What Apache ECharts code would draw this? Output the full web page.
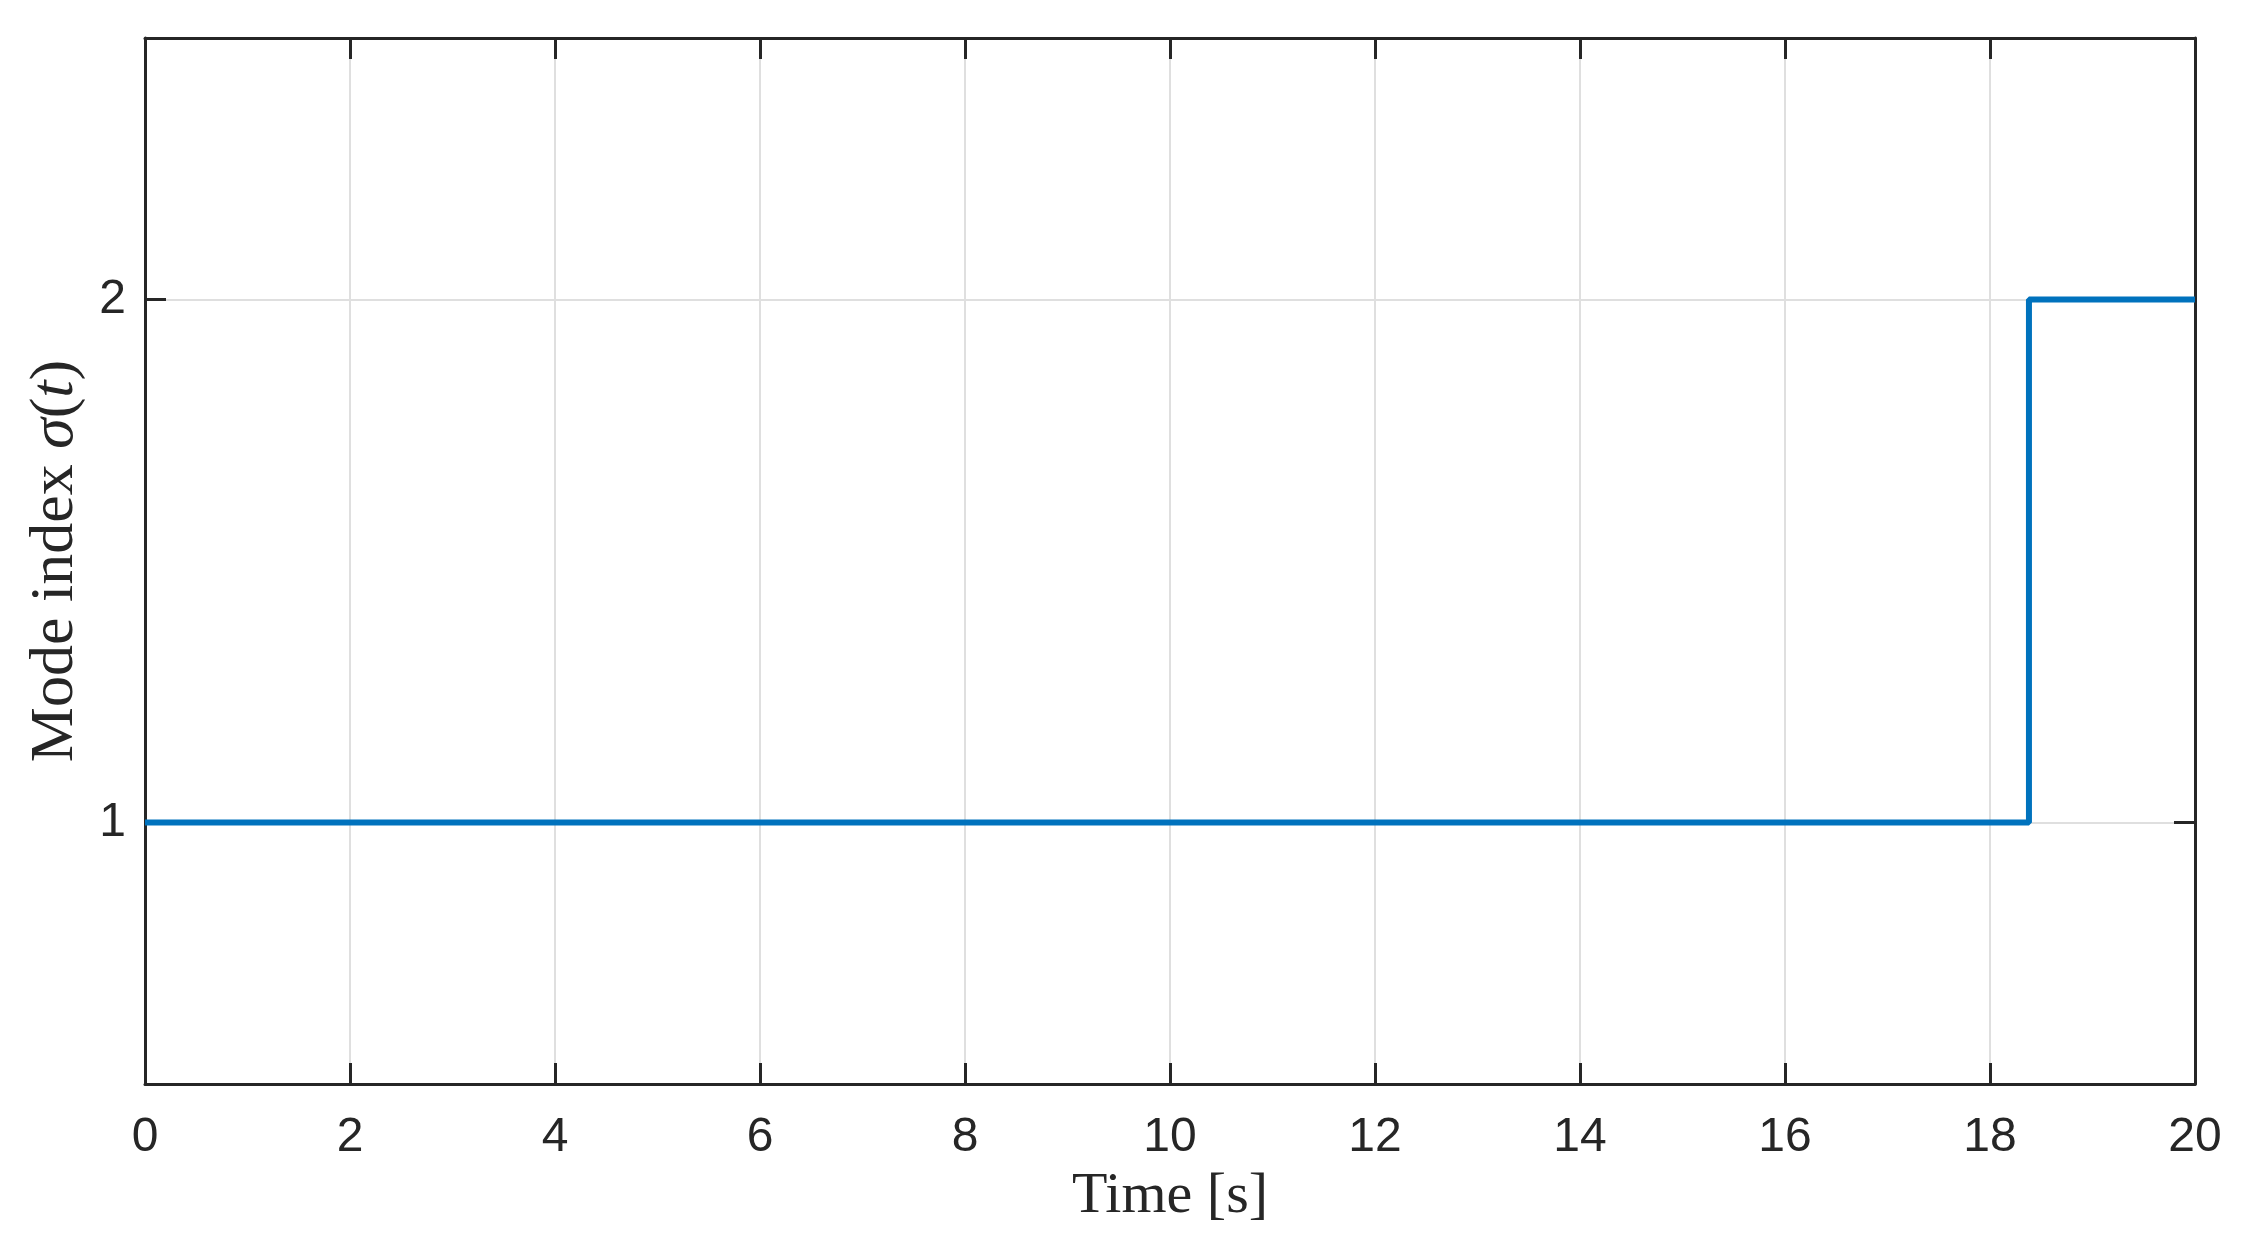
<!DOCTYPE html>
<html>
<head>
<meta charset="utf-8">
<script src="https://cdn.jsdelivr.net/npm/echarts@6/dist/echarts.min.js"></script>
<style>
  html, body { margin: 0; padding: 0; background: #fff; }
  #chart { width: 2243px; height: 1257px; }
</style>
</head>
<body>
<div id="chart"></div>
<script>
    // switching signal: mode jumps from 1 to 2 near t = 18.4 s
    var time = [0, 18.38, 20];
    var mode = [1, 2, 2];
    var xTicks = [0, 2, 4, 6, 8, 10, 12, 14, 16, 18, 20];
    var yTicks = [1, 2];

    var axisColor = '#262626';
    var gridColor = '#dfdfdf';

    var chart = echarts.init(document.getElementById('chart'));

    var points = [];
    for (var i = 0; i < time.length; i++) {
        points.push([time[i], mode[i]]);
    }

    var option = {
        animation: false,
        backgroundColor: '#ffffff',
        grid: {
            left: 145,
            right: 48,
            top: 38,
            bottom: 173,
            containLabel: false
        },
        xAxis: [
            {
                type: 'value',
                min: 0,
                max: 20,
                interval: 2,
                name: 'Time [s]',
                nameLocation: 'middle',
                nameGap: 84,
                nameTextStyle: {
                    fontFamily: 'Liberation Serif',
                    fontSize: 58,
                    color: axisColor
                },
                axisLine: { show: true, onZero: false, lineStyle: { color: axisColor, width: 3 } },
                axisTick: { show: true, inside: true, length: 21, lineStyle: { color: axisColor, width: 3 } },
                axisLabel: {
                    margin: 30,
                    fontFamily: 'Liberation Sans',
                    fontSize: 48,
                    color: axisColor,
                    showMinLabel: true,
                    showMaxLabel: true
                },
                splitLine: { show: true, lineStyle: { color: gridColor, width: 2 } }
            },
            {
                type: 'value',
                position: 'top',
                min: 0,
                max: 20,
                interval: 2,
                axisLine: { show: true, onZero: false, lineStyle: { color: axisColor, width: 3 } },
                axisTick: { show: true, inside: true, length: 21, lineStyle: { color: axisColor, width: 3 } },
                axisLabel: { show: false },
                splitLine: { show: false }
            }
        ],
        yAxis: [
            {
                type: 'value',
                min: 0.5,
                max: 2.5,
                name: 'Mode index {i|σ}({i|t})',
                nameLocation: 'middle',
                nameGap: 58,
                nameTextStyle: {
                    fontFamily: 'Liberation Serif',
                    fontSize: 62,
                    color: axisColor,
                    rich: {
                        i: {
                            fontFamily: 'Liberation Serif',
                            fontStyle: 'italic',
                            fontSize: 62,
                            color: axisColor
                        }
                    }
                },
                axisLine: { show: true, onZero: false, lineStyle: { color: axisColor, width: 3 } },
                axisTick: { show: true, inside: true, length: 21, customValues: yTicks, lineStyle: { color: axisColor, width: 3 } },
                axisLabel: {
                    customValues: yTicks,
                    margin: 19,
                    fontFamily: 'Liberation Sans',
                    fontSize: 48,
                    color: axisColor
                },
                splitLine: { show: true, customValues: yTicks, lineStyle: { color: gridColor, width: 2 } }
            },
            {
                type: 'value',
                position: 'right',
                min: 0.5,
                max: 2.5,
                axisLine: { show: true, onZero: false, lineStyle: { color: axisColor, width: 3 } },
                axisTick: { show: true, inside: true, length: 21, customValues: yTicks, lineStyle: { color: axisColor, width: 3 } },
                axisLabel: { show: false },
                splitLine: { show: false }
            }
        ],
        series: [
            {
                name: 'mode',
                type: 'line',
                step: 'end',
                data: points,
                showSymbol: false,
                lineStyle: { color: '#0072BD', width: 6 },
                z: 1
            }
        ]
    };
    chart.setOption(option);
</script>
</body>
</html>
